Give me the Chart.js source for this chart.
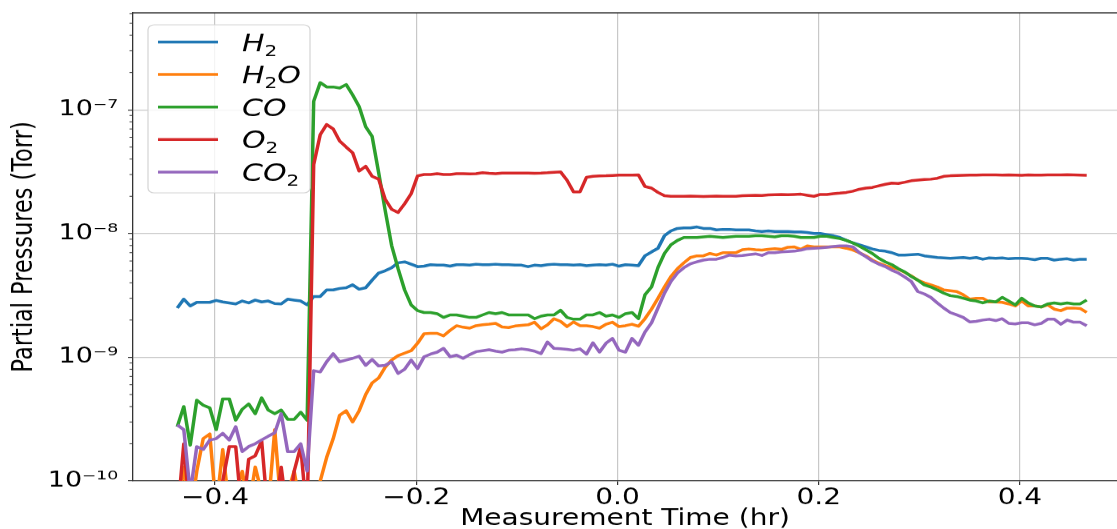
<!DOCTYPE html>
<html>
<head>
<meta charset="utf-8">
<script src="https://cdn.jsdelivr.net/npm/chart.js@4.4.0/dist/chart.umd.min.js"></script>
<style>
  html, body { margin: 0; padding: 0; background: #fff; overflow: hidden; }
  /* the reference figure is squeezed vertically, so draw tall and squash */
  #wrap { width: 1117px; height: 661px; transform: scaleY(0.8003); transform-origin: 0 0; }
</style>
</head>
<body>
<div id="wrap"><canvas id="pressureChart" width="1117" height="661"></canvas></div>
<script>
// sample times (hr)
const times = [
  -0.4376, -0.4311, -0.4247, -0.4182, -0.4118, -0.4053, -0.3989, -0.3924, -0.3859, -0.3795,
  -0.3730, -0.3666, -0.3601, -0.3537, -0.3472, -0.3407, -0.3343, -0.3278, -0.3214, -0.3149,
  -0.3085, -0.3020, -0.2955, -0.2891, -0.2826, -0.2762, -0.2697, -0.2633, -0.2568, -0.2503,
  -0.2439, -0.2374, -0.2310, -0.2245, -0.2181, -0.2116, -0.2051, -0.1987, -0.1922, -0.1858,
  -0.1793, -0.1729, -0.1664, -0.1600, -0.1535, -0.1470, -0.1406, -0.1341, -0.1277, -0.1212,
  -0.1148, -0.1083, -0.1018, -0.0954, -0.0889, -0.0825, -0.0760, -0.0696, -0.0631, -0.0566,
  -0.0502, -0.0437, -0.0373, -0.0308, -0.0244, -0.0179, -0.0114, -0.0050, 0.0015, 0.0079,
  0.0144, 0.0208, 0.0273, 0.0338, 0.0402, 0.0467, 0.0531, 0.0596, 0.0660, 0.0725,
  0.0790, 0.0854, 0.0919, 0.0983, 0.1048, 0.1112, 0.1177, 0.1242, 0.1306, 0.1371,
  0.1435, 0.1500, 0.1564, 0.1629, 0.1694, 0.1758, 0.1823, 0.1887, 0.1952, 0.2016,
  0.2081, 0.2146, 0.2210, 0.2275, 0.2339, 0.2404, 0.2468, 0.2533, 0.2598, 0.2662,
  0.2727, 0.2791, 0.2856, 0.2920, 0.2985, 0.3050, 0.3114, 0.3179, 0.3243, 0.3308,
  0.3372, 0.3437, 0.3502, 0.3566, 0.3631, 0.3695, 0.3760, 0.3824, 0.3889, 0.3954,
  0.4018, 0.4083, 0.4147, 0.4212, 0.4276, 0.4341, 0.4406, 0.4470, 0.4535, 0.4599,
  0.4664
];

// partial pressures (Torr)
const h2 = [
  2.50e-9, 2.95e-9, 2.60e-9, 2.78e-9, 2.78e-9, 2.78e-9, 2.88e-9, 2.80e-9, 2.75e-9, 2.70e-9, 2.85e-9,
  2.75e-9, 2.90e-9, 2.80e-9, 2.85e-9, 2.72e-9, 2.70e-9, 2.95e-9, 2.90e-9, 2.85e-9, 2.65e-9,
  3.10e-9, 3.10e-9, 3.50e-9, 3.50e-9, 3.60e-9, 3.65e-9, 3.85e-9, 3.55e-9, 3.65e-9, 4.20e-9,
  4.80e-9, 5.00e-9, 5.30e-9, 5.80e-9, 5.90e-9, 5.65e-9, 5.40e-9, 5.45e-9, 5.60e-9, 5.55e-9,
  5.55e-9, 5.45e-9, 5.60e-9, 5.60e-9, 5.55e-9, 5.65e-9, 5.60e-9, 5.60e-9, 5.65e-9, 5.60e-9,
  5.60e-9, 5.55e-9, 5.55e-9, 5.40e-9, 5.55e-9, 5.50e-9, 5.60e-9, 5.65e-9, 5.60e-9, 5.60e-9,
  5.55e-9, 5.60e-9, 5.50e-9, 5.55e-9, 5.60e-9, 5.55e-9, 5.65e-9, 5.45e-9, 5.60e-9, 5.55e-9,
  5.50e-9, 6.60e-9, 7.10e-9, 7.60e-9, 9.60e-9, 1.05e-8, 1.10e-8, 1.11e-8, 1.11e-8, 1.13e-8,
  1.10e-8, 1.10e-8, 1.07e-8, 1.08e-8, 1.08e-8, 1.07e-8, 1.07e-8, 1.07e-8, 1.05e-8, 1.04e-8,
  1.05e-8, 1.04e-8, 1.04e-8, 1.04e-8, 1.03e-8, 1.03e-8, 1.02e-8, 1.00e-8, 1.00e-8, 9.80e-9,
  9.60e-9, 9.30e-9, 8.80e-9, 8.40e-9, 8.10e-9, 7.80e-9, 7.50e-9, 7.30e-9, 7.20e-9, 7.00e-9,
  6.70e-9, 6.70e-9, 6.75e-9, 6.80e-9, 6.60e-9, 6.50e-9, 6.40e-9, 6.35e-9, 6.30e-9, 6.35e-9,
  6.40e-9, 6.30e-9, 6.40e-9, 6.20e-9, 6.35e-9, 6.30e-9, 6.35e-9, 6.25e-9, 6.30e-9, 6.30e-9,
  6.25e-9, 6.15e-9, 6.30e-9, 6.30e-9, 6.10e-9, 6.20e-9, 6.25e-9, 6.10e-9, 6.20e-9, 6.20e-9
];
const h2o = [
  6.0e-11, 1.3e-10, 5.0e-11, 1.2e-10, 2.2e-10, 2.4e-10, 6.0e-11, 1.8e-10, 6.0e-11, 8.0e-11, 1.2e-10,
  6.0e-11, 1.3e-10, 8.0e-11, 6.0e-11, 2.6e-10, 6.0e-11, 8.0e-11, 1.2e-10, 6.0e-11, 5.0e-11,
  5.0e-11, 1.0e-10, 1.55e-10, 2.2e-10, 3.4e-10, 3.7e-10, 3.0e-10, 3.7e-10, 5.0e-10, 6.2e-10,
  6.8e-10, 8.3e-10, 9.5e-10, 1.03e-9, 1.08e-9, 1.13e-9, 1.30e-9, 1.55e-9, 1.56e-9, 1.56e-9,
  1.49e-9, 1.65e-9, 1.80e-9, 1.75e-9, 1.72e-9,
  1.80e-9, 1.83e-9, 1.85e-9, 1.88e-9, 1.76e-9, 1.74e-9, 1.79e-9, 1.81e-9, 1.83e-9, 1.92e-9,
  1.70e-9, 1.83e-9, 2.05e-9, 1.95e-9, 1.77e-9, 1.93e-9, 1.80e-9, 1.80e-9, 1.77e-9, 1.72e-9,
  1.85e-9, 1.92e-9, 1.77e-9, 1.80e-9,
  1.85e-9, 1.78e-9, 2.05e-9, 2.45e-9, 3.00e-9, 3.70e-9, 4.50e-9, 5.20e-9, 5.80e-9, 6.40e-9,
  6.60e-9, 6.60e-9, 6.90e-9, 6.70e-9, 7.00e-9, 7.00e-9, 7.00e-9, 7.40e-9, 7.50e-9, 7.40e-9,
  7.35e-9, 7.45e-9, 7.55e-9, 7.45e-9, 7.75e-9,
  7.80e-9, 7.45e-9, 7.95e-9, 7.80e-9, 7.80e-9, 7.80e-9, 7.80e-9, 7.80e-9, 7.60e-9, 7.35e-9,
  7.00e-9, 6.60e-9, 6.10e-9, 5.75e-9, 5.50e-9, 5.30e-9, 5.15e-9, 4.85e-9, 4.55e-9, 4.20e-9,
  4.00e-9, 3.85e-9, 3.70e-9, 3.50e-9, 3.45e-9,
  3.40e-9, 3.20e-9, 2.95e-9, 3.00e-9, 3.00e-9, 2.80e-9, 2.80e-9, 2.78e-9, 2.70e-9, 2.60e-9,
  2.85e-9, 2.60e-9, 2.60e-9, 2.55e-9, 2.65e-9, 2.45e-9, 2.38e-9, 2.50e-9, 2.50e-9, 2.48e-9,
  2.30e-9
];
const co = [
  2.75e-10, 4.0e-10, 1.95e-10, 4.5e-10, 4.1e-10, 3.9e-10, 2.6e-10, 4.6e-10, 4.6e-10, 3.1e-10, 3.8e-10,
  4.2e-10, 3.5e-10, 4.7e-10, 3.75e-10, 3.5e-10, 3.75e-10, 3.15e-10, 3.15e-10, 3.6e-10, 3.1e-10,
  1.17e-7, 1.66e-7, 1.53e-7, 1.53e-7, 1.50e-7, 1.60e-7, 1.32e-7, 1.06e-7, 7.3e-8, 6.1e-8,
  3.1e-8, 1.55e-8, 8.0e-9, 5.2e-9, 3.5e-9, 2.65e-9, 2.38e-9, 2.30e-9, 2.30e-9, 2.25e-9,
  2.10e-9, 2.20e-9, 2.20e-9, 2.15e-9, 2.10e-9,
  2.10e-9, 2.20e-9, 2.30e-9, 2.25e-9, 2.30e-9, 2.20e-9, 2.20e-9, 2.20e-9, 2.20e-9, 2.05e-9,
  2.15e-9, 2.20e-9, 2.20e-9, 2.40e-9, 2.10e-9, 2.03e-9, 2.03e-9, 2.20e-9, 2.20e-9, 2.30e-9,
  2.15e-9, 2.20e-9, 2.10e-9, 2.25e-9,
  2.30e-9, 2.05e-9, 3.20e-9, 3.70e-9, 5.30e-9, 6.90e-9, 8.10e-9, 8.80e-9, 9.30e-9, 9.30e-9,
  9.30e-9, 9.40e-9, 9.50e-9, 9.40e-9, 9.30e-9, 9.40e-9, 9.50e-9, 9.50e-9, 9.50e-9, 9.60e-9,
  9.60e-9, 9.50e-9, 9.40e-9, 9.60e-9, 9.60e-9,
  9.50e-9, 9.30e-9, 9.30e-9, 9.30e-9, 9.50e-9, 9.50e-9, 9.30e-9, 9.10e-9, 8.80e-9, 8.40e-9,
  7.90e-9, 7.40e-9, 6.90e-9, 6.30e-9, 5.90e-9, 5.60e-9, 5.20e-9, 4.90e-9, 4.50e-9, 4.20e-9,
  3.85e-9, 3.70e-9, 3.50e-9, 3.30e-9, 3.15e-9,
  3.10e-9, 3.00e-9, 2.90e-9, 2.85e-9, 2.75e-9, 2.85e-9, 2.80e-9, 3.05e-9, 2.85e-9, 2.65e-9,
  3.00e-9, 2.75e-9, 2.60e-9, 2.55e-9, 2.70e-9, 2.75e-9, 2.70e-9, 2.75e-9, 2.70e-9, 2.70e-9,
  2.90e-9
];
const o2 = [
  5.0e-11, 2.0e-10, 5.0e-11, 5.0e-11, 6.0e-11, 5.0e-11, 5.0e-11, 1.0e-10, 1.9e-10, 1.9e-10, 5.0e-11,
  1.5e-10, 1.6e-10, 2.1e-10, 5.0e-11, 5.0e-11, 1.3e-10, 5.0e-11, 1.2e-10, 1.9e-10, 5.0e-11,
  3.6e-8, 6.3e-8, 7.6e-8, 7.0e-8, 5.6e-8, 5.0e-8, 4.5e-8, 3.2e-8, 3.5e-8, 2.9e-8,
  2.75e-8, 1.9e-8, 1.57e-8, 1.48e-8, 1.74e-8, 2.1e-8, 2.93e-8,
  3.00e-8, 3.00e-8, 3.05e-8, 3.00e-8, 3.00e-8, 3.05e-8, 3.05e-8, 3.03e-8, 3.05e-8, 3.10e-8,
  3.07e-8, 3.05e-8, 3.08e-8, 3.08e-8, 3.08e-8, 3.08e-8, 3.08e-8, 3.07e-8, 3.08e-8, 3.10e-8,
  3.13e-8, 3.15e-8,
  2.70e-8, 2.17e-8, 2.17e-8, 2.85e-8, 2.90e-8, 2.92e-8, 2.93e-8, 2.95e-8, 2.97e-8, 2.97e-8,
  2.97e-8, 2.98e-8, 2.40e-8, 2.33e-8, 2.15e-8, 2.02e-8, 2.00e-8, 2.00e-8, 2.00e-8, 2.01e-8,
  2.00e-8, 1.99e-8, 2.00e-8, 2.01e-8, 2.00e-8, 2.00e-8, 2.00e-8, 2.02e-8, 2.03e-8, 2.04e-8,
  2.03e-8, 2.05e-8, 2.06e-8, 2.07e-8, 2.06e-8,
  2.07e-8, 2.08e-8, 2.04e-8, 2.00e-8, 2.07e-8, 2.07e-8, 2.10e-8, 2.12e-8, 2.15e-8, 2.20e-8,
  2.28e-8, 2.33e-8, 2.36e-8, 2.43e-8, 2.50e-8, 2.56e-8, 2.54e-8, 2.60e-8, 2.67e-8, 2.70e-8,
  2.73e-8, 2.75e-8, 2.80e-8, 2.90e-8, 2.93e-8,
  2.95e-8, 2.96e-8, 2.97e-8, 2.97e-8, 2.98e-8, 2.98e-8, 2.98e-8, 2.97e-8, 2.98e-8, 2.97e-8,
  2.96e-8, 2.98e-8, 2.97e-8, 2.97e-8, 2.98e-8, 2.98e-8, 2.98e-8, 2.99e-8, 2.98e-8, 2.97e-8,
  2.96e-8
];
const co2 = [
  2.84e-10, 2.6e-10, 8.0e-11, 1.9e-10, 1.8e-10, 2.14e-10, 2.2e-10, 2.43e-10, 2.14e-10, 2.75e-10, 1.73e-10,
  1.9e-10, 2.0e-10, 2.15e-10, 2.3e-10, 2.45e-10, 3.5e-10, 1.73e-10, 1.73e-10, 2.0e-10, 1.2e-10,
  7.8e-10, 7.6e-10, 9.2e-10, 1.07e-9, 9.2e-10, 9.5e-10, 9.8e-10, 1.02e-9, 8.6e-10, 9.6e-10,
  8.5e-10, 8.6e-10, 9.2e-10, 7.4e-10, 8.0e-10, 9.5e-10, 8.1e-10, 1.01e-9, 1.06e-9, 1.10e-9,
  1.18e-9, 1.01e-9, 1.04e-9, 9.8e-10, 1.05e-9,
  1.11e-9, 1.13e-9, 1.15e-9, 1.12e-9, 1.10e-9, 1.14e-9, 1.15e-9, 1.17e-9, 1.15e-9, 1.12e-9,
  1.07e-9, 1.33e-9, 1.18e-9, 1.17e-9, 1.16e-9, 1.14e-9, 1.17e-9, 1.06e-9, 1.31e-9, 1.10e-9,
  1.30e-9, 1.42e-9, 1.14e-9, 1.10e-9,
  1.42e-9, 1.25e-9, 1.60e-9, 1.90e-9, 2.50e-9, 3.30e-9, 4.10e-9, 4.80e-9, 5.30e-9, 5.70e-9,
  5.90e-9, 6.10e-9, 6.20e-9, 6.20e-9, 6.40e-9, 6.70e-9, 6.60e-9, 6.65e-9, 6.75e-9, 6.85e-9,
  6.65e-9, 7.00e-9, 7.00e-9, 7.10e-9, 7.15e-9,
  7.20e-9, 7.35e-9, 7.55e-9, 7.60e-9, 7.65e-9, 7.75e-9, 7.85e-9, 7.95e-9, 7.95e-9, 7.80e-9,
  7.00e-9, 6.50e-9, 6.00e-9, 5.65e-9, 5.40e-9, 5.05e-9, 4.80e-9, 4.45e-9, 4.10e-9, 3.40e-9,
  3.25e-9, 3.05e-9, 2.75e-9, 2.50e-9, 2.30e-9,
  2.20e-9, 2.10e-9, 1.93e-9, 1.95e-9, 2.00e-9, 2.03e-9, 1.98e-9, 2.05e-9, 1.88e-9, 1.86e-9,
  1.90e-9, 1.90e-9, 1.83e-9, 1.88e-9, 2.03e-9, 2.03e-9, 1.85e-9, 2.00e-9, 1.92e-9, 1.92e-9,
  1.80e-9
];

const seriesLabels = ['H₂', 'H₂O', 'CO', 'O₂', 'CO₂'];
const seriesData = [h2, h2o, co, o2, co2];
const seriesColors = ['#1f77b4', '#ff7f0e', '#2ca02c', '#d62728', '#9467bd'];

// axis ticks
const xTicks = [-0.4, -0.2, 0.0, 0.2, 0.4];
const yTicks = [1e-10, 1e-9, 1e-8, 1e-7];

// legend text pieces: [text, isSubscript]
const legendParts = [
  [['H', 0], ['2', 1]],
  [['H', 0], ['2', 1], ['O', 0]],
  [['CO', 0]],
  [['O', 0], ['2', 1]],
  [['CO', 0], ['2', 1]]
];

const SUP = { '-': '⁻', '0': '⁰', '1': '¹', '2': '²', '3': '³', '4': '⁴', '5': '⁵', '6': '⁶', '7': '⁷', '8': '⁸', '9': '⁹' };
function powerLabel(v) {
  const e = String(Math.round(Math.log10(v)));
  return '10' + e.split('').map(c => SUP[c]).join('');
}

const FONT = 'DejaVu Sans';

// spines on top, minor log ticks and the framed legend
const framePlugin = {
  id: 'frame',
  afterDatasetsDraw(chart) {
    const { ctx, chartArea: a, scales } = chart;
    const y = scales.y;
    ctx.save();
    ctx.strokeStyle = '#333';
    ctx.lineWidth = 1.3;
    ctx.beginPath();
    ctx.moveTo(a.left, a.top);
    ctx.lineTo(a.right, a.top);
    ctx.stroke();

    ctx.lineWidth = 1;
    for (let e = -10; e <= -7; e++) {
      for (let k = 2; k <= 9; k++) {
        const v = k * Math.pow(10, e);
        if (v > y.max) continue;
        const py = y.getPixelForValue(v);
        ctx.beginPath();
        ctx.moveTo(a.left - 3.5, py);
        ctx.lineTo(a.left, py);
        ctx.stroke();
      }
    }

    // legend box
    ctx.fillStyle = 'rgba(255,255,255,0.8)';
    ctx.strokeStyle = '#d4d4d4';
    ctx.lineWidth = 1.2;
    ctx.beginPath();
    ctx.roundRect(148, 31, 162, 210, 6);
    ctx.fill();
    ctx.stroke();

    legendParts.forEach((parts, i) => {
      const cy = 52.5 + i * 40.6;
      ctx.strokeStyle = seriesColors[i];
      ctx.lineWidth = 3.5;
      ctx.beginPath();
      ctx.moveTo(158, cy);
      ctx.lineTo(218, cy);
      ctx.stroke();

      let tx = 242;
      const base = cy + 11;
      ctx.fillStyle = '#000';
      ctx.textBaseline = 'alphabetic';
      ctx.textAlign = 'left';
      parts.forEach(([s, sub]) => {
        ctx.font = sub ? `20px "${FONT}"` : `italic 30px "${FONT}"`;
        ctx.fillText(s, tx, base + (sub ? 6 : 0));
        tx += ctx.measureText(s).width;
      });
    });
    ctx.restore();
  }
};

const ctx = document.getElementById('pressureChart').getContext('2d');
new Chart(ctx, {
  type: 'line',
  data: {
    datasets: seriesData.map((vals, i) => ({
      label: seriesLabels[i],
      data: vals.map((v, j) => ({ x: times[j], y: v })),
      borderColor: seriesColors[i],
      backgroundColor: seriesColors[i],
      borderWidth: 3.5,
      borderJoinStyle: 'round',
      pointRadius: 0,
      tension: 0,
      clip: 0,
      order: seriesData.length - 1 - i
    }))
  },
  options: {
    responsive: false,
    animation: false,
    layout: { padding: { top: 16, right: 0, bottom: 0, left: 0 } },
    plugins: {
      legend: { display: false },
      tooltip: { enabled: false }
    },
    scales: {
      x: {
        type: 'linear',
        min: -0.4816,
        max: 0.4965,
        afterFit: s => { s.height = 60; s.paddingLeft = 0; s.paddingRight = 0; },
        afterBuildTicks: s => { s.ticks = xTicks.map(v => ({ value: v })); },
        ticks: {
          autoSkip: false,
          maxRotation: 0,
          padding: 0,
          color: '#000',
          font: { family: FONT, size: 28 },
          callback: v => (v < -1e-9 ? '−' : '') + Math.abs(v).toFixed(1)
        },
        grid: { color: '#c8c8c8', lineWidth: 1.2, tickColor: '#333', tickLength: 5, tickWidth: 1.2 },
        border: { color: '#333', width: 1.3 },
        title: {
          display: true,
          text: 'Measurement Time (hr)',
          color: '#000',
          font: { family: FONT, size: 28, lineHeight: 0.86 },
          padding: 0
        }
      },
      y: {
        type: 'logarithmic',
        min: 1e-10,
        max: 6.08e-7,
        afterFit: s => { s.width = 133; s.paddingTop = 0; s.paddingBottom = 0; },
        afterBuildTicks: s => { s.ticks = yTicks.map(v => ({ value: v })); },
        ticks: {
          autoSkip: false,
          padding: 10,
          color: '#000',
          font: { family: FONT, size: 27 },
          callback: v => powerLabel(v)
        },
        grid: { color: '#c8c8c8', lineWidth: 1.2, tickColor: '#333', tickLength: 5, tickWidth: 1.2 },
        border: { color: '#333', width: 1.3 },
        title: {
          display: true,
          text: 'Partial Pressures (Torr)',
          color: '#000',
          font: { family: FONT, size: 28 },
          padding: { top: 8, bottom: 0 }
        }
      }
    }
  },
  plugins: [framePlugin]
});
</script>
</body>
</html>
